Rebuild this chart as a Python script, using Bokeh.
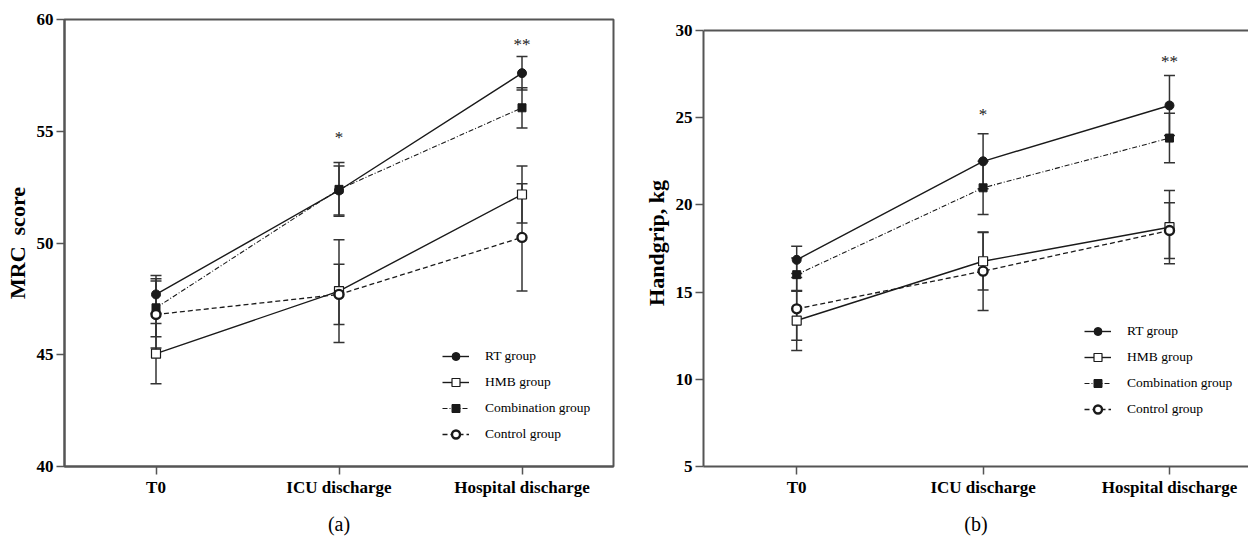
from bokeh.plotting import figure
from bokeh.models import (ColumnDataSource, Whisker, TeeHead, Legend, LegendItem,
                          FixedTicker, Range1d, Span)
from bokeh.layouts import row
from bokeh.embed import file_html
from bokeh.resources import INLINE
from bokeh.core.properties import value

# ---------------- data ----------------
categories = ["T0", "ICU discharge", "Hospital discharge"]
group_names = ["RT group", "HMB group", "Combination group", "Control group"]

mrc_rt = [47.7, 52.35, 57.6]
mrc_rt_sd = [0.85, 1.1, 0.75]
mrc_hmb = [45.05, 47.85, 52.17]
mrc_hmb_sd = [1.35, 2.3, 1.27]
mrc_comb = [47.1, 52.4, 56.05]
mrc_comb_sd = [1.3, 1.2, 0.9]
mrc_ctrl = [46.8, 47.7, 50.25]
mrc_ctrl_sd = [1.5, 1.35, 2.4]

hg_rt = [16.85, 22.5, 25.7]
hg_rt_sd = [0.78, 1.58, 1.72]
hg_hmb = [13.37, 16.77, 18.72]
hg_hmb_sd = [1.72, 1.65, 2.1]
hg_comb = [16.0, 20.98, 23.83]
hg_comb_sd = [0.95, 1.53, 1.42]
hg_ctrl = [14.04, 16.2, 18.53]
hg_ctrl_sd = [1.8, 2.25, 1.6]

star_idx = [1, 2]
star_labels = ["*", "**"]
mrc_star_y = [54.7, 58.9]
hg_star_y = [25.2, 28.2]

mrc_ticks = [40, 45, 50, 55, 60]
hg_ticks = [5, 10, 15, 20, 25, 30]

FONT = "Liberation Serif"
INK = "#1a1a1a"
AXIS = "#555555"

styles = [
    dict(marker="circle", fill=INK, size=9, lw_m=1.0, dash="solid", lw=1.4),
    dict(marker="square", fill="white", size=9, lw_m=1.2, dash="solid", lw=1.4),
    dict(marker="square", fill=INK, size=8, lw_m=1.0, dash="5 2 1 2", lw=1.1),
    dict(marker="circle", fill="white", size=9, lw_m=2.4, dash="5 3", lw=1.3),
]

H = 544
B_TOP = 19
B_BOTTOM = 78


def make_panel(series, sds, yr, ybounds, yticks, ylabel, caption, star_y, width,
               b_left, b_right, xend, legend_loc, full_box):
    x = list(range(len(categories)))
    p = figure(width=width, height=H, output_backend="svg",
               toolbar_location=None, x_range=Range1d(-0.5, xend),
               y_range=Range1d(yr[0], yr[1]),
               min_border_left=b_left, min_border_right=b_right,
               min_border_top=B_TOP, min_border_bottom=B_BOTTOM)
    p.grid.visible = False
    p.background_fill_color = "white"
    if full_box:
        p.outline_line_color = AXIS
        p.outline_line_width = 2
    else:
        p.outline_line_color = None
        p.add_layout(Span(location=ybounds[1], dimension="width",
                          line_color=AXIS, line_width=2))

    xa = p.xaxis[0]
    ya = p.yaxis[0]
    xa.ticker = FixedTicker(ticks=x)
    xa.major_label_overrides = {i: c for i, c in zip(x, categories)}
    ya.ticker = FixedTicker(ticks=yticks)
    ya.bounds = ybounds
    for ax in (xa, ya):
        ax.axis_line_color = AXIS
        ax.axis_line_width = 2
        ax.major_tick_line_color = AXIS
        ax.major_tick_line_width = 1.5
        ax.major_tick_out = 8
        ax.major_tick_in = 0
        ax.minor_tick_line_color = None
        ax.major_label_text_font = FONT
        ax.major_label_text_font_style = "bold"
        ax.major_label_text_font_size = "17px"
        ax.major_label_text_color = "black"
        ax.major_label_standoff = 3
    ya.axis_label = ylabel
    ya.axis_label_text_font = FONT
    ya.axis_label_text_font_style = "bold"
    ya.axis_label_text_font_size = "22px"
    ya.axis_label_text_color = "black"
    ya.axis_label_standoff = 4
    xa.axis_label = caption
    xa.axis_label_text_font = FONT
    xa.axis_label_text_font_style = "normal"
    xa.axis_label_text_font_size = "20px"
    xa.axis_label_text_color = "black"
    xa.axis_label_standoff = 13

    items = []
    for name, ys, sd, st in zip(group_names, series, sds, styles):
        src = ColumnDataSource(dict(x=x, y=ys,
                                    lo=[a - b for a, b in zip(ys, sd)],
                                    hi=[a + b for a, b in zip(ys, sd)]))
        w = Whisker(base="x", upper="hi", lower="lo", source=src,
                    line_color="#333333", line_width=1.5, level="underlay",
                    upper_head=TeeHead(size=11, line_color="#333333", line_width=1.5),
                    lower_head=TeeHead(size=11, line_color="#333333", line_width=1.5))
        p.add_layout(w)
        ln = p.line("x", "y", source=src, line_color=INK, line_width=st["lw"],
                    line_dash=st["dash"])
        sc = p.scatter("x", "y", source=src, marker=st["marker"], size=st["size"],
                       fill_color=st["fill"], line_color=INK, line_width=st["lw_m"])
        items.append(LegendItem(label=name, renderers=[ln, sc]))

    ssrc = ColumnDataSource(dict(x=star_idx, y=star_y, t=star_labels))
    p.text("x", "y", text="t", source=ssrc, text_font=value(FONT),
           text_font_size="17px", text_align="center", text_baseline="middle",
           text_color=INK)

    leg = Legend(items=items, location=legend_loc, padding=0, margin=0,
                 border_line_color=None, background_fill_alpha=0,
                 glyph_width=27, glyph_height=20, label_height=20, spacing=6,
                 label_standoff=16, label_text_font=FONT,
                 label_text_font_size="13.5px", label_text_color="black")
    p.add_layout(leg)
    return p


# right panel: frame tops are aligned; value 30 sits 11px below the frame top
hg_top = 30 + 11 / 17.44
p1 = make_panel([mrc_rt, mrc_hmb, mrc_comb, mrc_ctrl],
                [mrc_rt_sd, mrc_hmb_sd, mrc_comb_sd, mrc_ctrl_sd],
                (40, 60), (40, 60), mrc_ticks, "MRC\u00a0\u00a0score", "(a)",
                mrc_star_y, 640, 64, 27, 2.5, (378, 22), True)
p2 = make_panel([hg_rt, hg_hmb, hg_comb, hg_ctrl],
                [hg_rt_sd, hg_hmb_sd, hg_comb_sd, hg_ctrl_sd],
                (5, hg_top), (5, 30), hg_ticks, "Handgrip, kg", "(b)", hg_star_y,
                608, 63, 0, 2.424, (381, 47), False)

layout = row(p1, p2)
open("out.html", "w").write(file_html(layout, INLINE))
